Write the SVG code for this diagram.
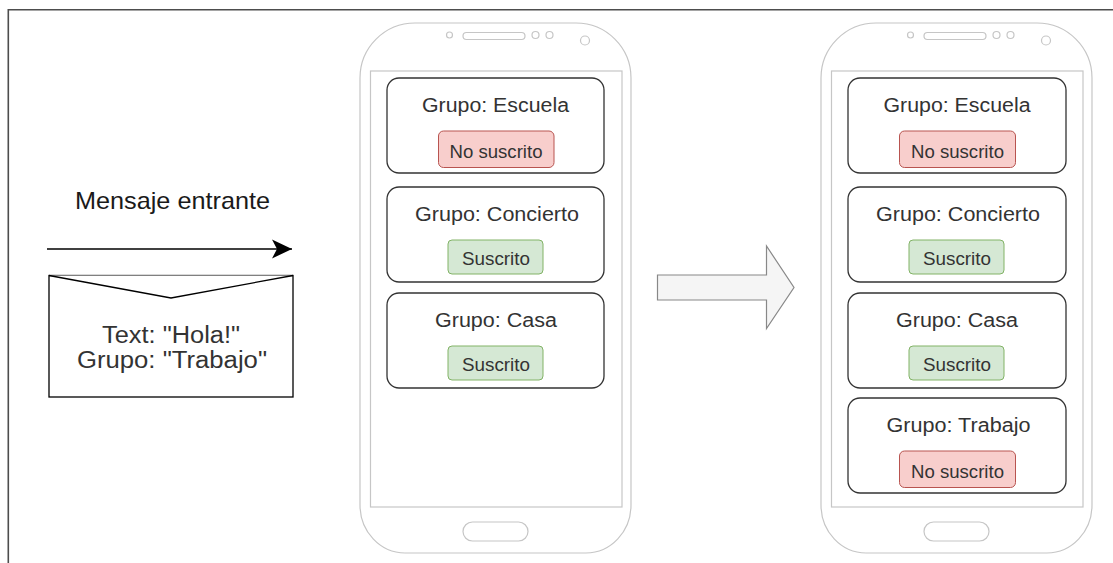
<svg xmlns="http://www.w3.org/2000/svg" xmlns:xlink="http://www.w3.org/1999/xlink" width="1113" height="563" viewBox="0 0 1113 563">
<style>
  .frame { fill: none; stroke: #4d4d4d; stroke-width: 1.6; }
  .phone { fill: #ffffff; stroke: #c6c6c6; stroke-width: 1.2; }
  .screen { fill: #ffffff; stroke: #c6c6c6; stroke-width: 1.2; }
  .card { fill: #ffffff; stroke: #333333; stroke-width: 1.3; }
  .red { fill: #f8cecc; stroke: #b85450; stroke-width: 1; }
  .green { fill: #d5e8d4; stroke: #82b366; stroke-width: 1; }
  .title { font-family: "Liberation Sans", Arial, sans-serif; font-size: 20px; fill: #333333; text-anchor: middle; }
  .badge { font-family: "Liberation Sans", Arial, sans-serif; font-size: 18px; fill: #333333; text-anchor: middle; }
  .big { font-family: "Liberation Sans", Arial, sans-serif; font-size: 23px; fill: #333333; text-anchor: middle; }
  .label { font-family: "Liberation Sans", Arial, sans-serif; font-size: 24px; fill: #1a1a1a; text-anchor: middle; }
  .edge { fill: none; stroke: #000000; stroke-width: 1.5; }
  .envelope { fill: #ffffff; stroke: #000000; stroke-width: 1.3; }
  .bigarrow { fill: #f5f5f5; stroke: #888888; stroke-width: 1.2; }
</style>
<defs>
  <marker id="classic" viewBox="0 0 20 20" refX="20" refY="10" markerWidth="20" markerHeight="20" markerUnits="userSpaceOnUse" orient="auto">
    <path d="M0,0.5 L20,10 L0,19.5 L5,10 Z" fill="#000000"/>
  </marker>
  <g id="shell">
    <path class="phone" d="M360,78 A55,55 0 0 1 415,23 L576,23 A55,55 0 0 1 631,78 L631,505 A45,48 0 0 1 586,553 L405,553 A45,48 0 0 1 360,505 Z"/>
    <rect class="screen" x="370.5" y="71" width="251.5" height="436"/>
    <rect class="screen" x="463" y="32.5" width="62" height="7" rx="3.5"/>
    <circle class="screen" cx="449.5" cy="35" r="3"/>
    <circle class="screen" cx="535.5" cy="35" r="3.5"/>
    <circle class="screen" cx="549.5" cy="35" r="3.5"/>
    <circle class="screen" cx="585" cy="40.5" r="4.5"/>
    <rect class="screen" x="463" y="522" width="65" height="19" rx="9.5"/>
  </g>
</defs>
<rect x="0" y="0" width="1113" height="563" fill="#ffffff"/>
<path class="frame" d="M1113,9.8 L8.3,9.8 L8.3,563"/>

<g id="label-mensaje">
  <text class="label" x="172.5" y="209" textLength="195" lengthAdjust="spacingAndGlyphs">Mensaje entrante</text>
</g>

<g id="envelope">
  <rect class="envelope" x="49" y="275.5" width="244" height="121.5"/>
  <path class="envelope" d="M49,275.5 L171,298 L293,275.5" fill="none"/>
  <text class="big" x="171" y="342.5" textLength="138" lengthAdjust="spacingAndGlyphs">Text: "Hola!"</text>
  <text class="big" x="172" y="367.5" textLength="190" lengthAdjust="spacingAndGlyphs">Grupo: "Trabajo"</text>
</g>

<g id="phone1">
  <use xlink:href="#shell" href="#shell"/>
  <g id="p1-escuela">
    <rect class="card" x="387" y="78" width="217" height="95" rx="12"/>
    <text class="title" x="495.5" y="112" textLength="147" lengthAdjust="spacingAndGlyphs">Grupo: Escuela</text>
    <rect class="red" x="438.5" y="131" width="115.5" height="36.5" rx="5"/>
    <text class="badge" x="496" y="158" textLength="93" lengthAdjust="spacingAndGlyphs">No suscrito</text>
  </g>
  <g id="p1-concierto">
    <rect class="card" x="387" y="187" width="217" height="95" rx="12"/>
    <text class="title" x="497" y="221" textLength="164" lengthAdjust="spacingAndGlyphs">Grupo: Concierto</text>
    <rect class="green" x="448" y="240" width="95" height="34" rx="4"/>
    <text class="badge" x="496" y="265" textLength="68" lengthAdjust="spacingAndGlyphs">Suscrito</text>
  </g>
  <g id="p1-casa">
    <rect class="card" x="387" y="293" width="217" height="95" rx="12"/>
    <text class="title" x="496" y="327" textLength="122" lengthAdjust="spacingAndGlyphs">Grupo: Casa</text>
    <rect class="green" x="448" y="346" width="95" height="34" rx="4"/>
    <text class="badge" x="496" y="371" textLength="68" lengthAdjust="spacingAndGlyphs">Suscrito</text>
  </g>
</g>

<g id="phone2">
  <use xlink:href="#shell" href="#shell" x="461"/>
  <g id="p2-escuela">
    <rect class="card" x="848" y="78" width="218" height="95" rx="12"/>
    <text class="title" x="957" y="112" textLength="147" lengthAdjust="spacingAndGlyphs">Grupo: Escuela</text>
    <rect class="red" x="899.5" y="131" width="116" height="36.5" rx="5"/>
    <text class="badge" x="957.5" y="158" textLength="93" lengthAdjust="spacingAndGlyphs">No suscrito</text>
  </g>
  <g id="p2-concierto">
    <rect class="card" x="848" y="187" width="218" height="95" rx="12"/>
    <text class="title" x="958" y="221" textLength="164" lengthAdjust="spacingAndGlyphs">Grupo: Concierto</text>
    <rect class="green" x="909" y="240" width="95" height="34" rx="4"/>
    <text class="badge" x="957" y="265" textLength="68" lengthAdjust="spacingAndGlyphs">Suscrito</text>
  </g>
  <g id="p2-casa">
    <rect class="card" x="848" y="293" width="218" height="95" rx="12"/>
    <text class="title" x="957" y="327" textLength="122" lengthAdjust="spacingAndGlyphs">Grupo: Casa</text>
    <rect class="green" x="909" y="346" width="95" height="34" rx="4"/>
    <text class="badge" x="957" y="371" textLength="68" lengthAdjust="spacingAndGlyphs">Suscrito</text>
  </g>
  <g id="p2-trabajo">
    <rect class="card" x="848" y="398" width="218" height="95" rx="12"/>
    <text class="title" x="958.5" y="432" textLength="144" lengthAdjust="spacingAndGlyphs">Grupo: Trabajo</text>
    <rect class="red" x="899.5" y="451" width="116" height="36.5" rx="5"/>
    <text class="badge" x="957.5" y="478" textLength="93" lengthAdjust="spacingAndGlyphs">No suscrito</text>
  </g>
</g>

<g id="connectors">
  <line class="edge" x1="47" y1="249" x2="292" y2="249" marker-end="url(#classic)"/>
  <path class="bigarrow" d="M657.5,275 L766.5,275 L766.5,246 L794,287.5 L766.5,328.5 L766.5,300 L657.5,300 Z"/>
</g>
</svg>
